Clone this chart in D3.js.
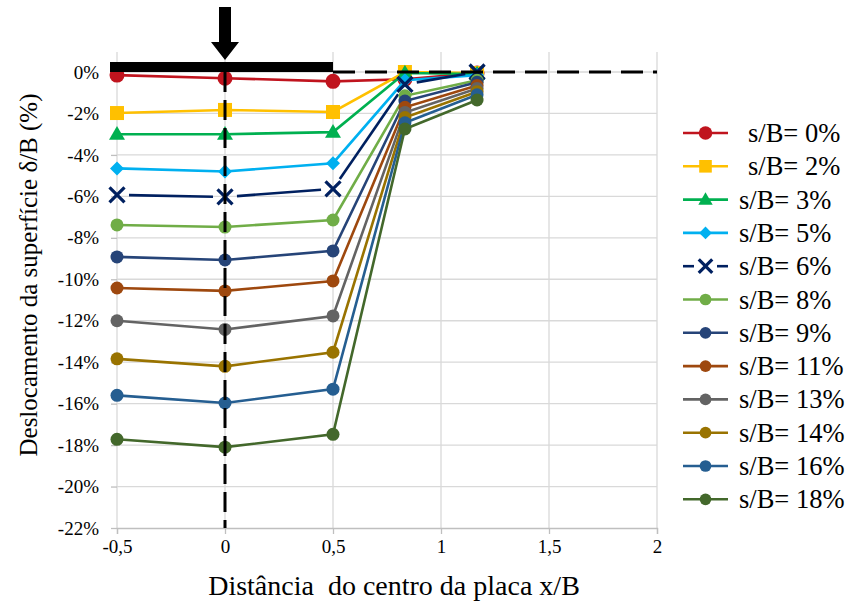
<!DOCTYPE html>
<html><head><meta charset="utf-8">
<script src="https://cdn.jsdelivr.net/npm/d3@7/dist/d3.min.js"></script>
<style>body{margin:0;background:#fff}svg{display:block}</style>
</head><body><svg id="c" width="853" height="606"></svg>
<script>
const SERIF = "'Liberation Serif', 'Times New Roman', Tinos, 'DejaVu Serif', serif";
const xValues = [-0.5, 0, 0.5, 0.833, 1.167];
const seriesNames = ["s/B= 0%","s/B= 2%","s/B= 3%","s/B= 5%","s/B= 6%","s/B= 8%","s/B= 9%","s/B= 11%","s/B= 13%","s/B= 14%","s/B= 16%","s/B= 18%"];
const s0  = [-0.15, -0.3, -0.45, -0.35, -0.05];
const s2  = [-1.98, -1.83, -1.93, 0.0, -0.05];
const s3  = [-3.0, -3.0, -2.9, -0.05, -0.1];
const s5  = [-4.65, -4.8, -4.4, -0.4, -0.15];
const s6  = [-5.93, -6.03, -5.64, -0.6, 0.0];
const s8  = [-7.38, -7.48, -7.14, -1.15, -0.4];
const s9  = [-8.92, -9.07, -8.63, -1.4, -0.5];
const s11 = [-10.42, -10.56, -10.08, -1.7, -0.65];
const s13 = [-12.0, -12.42, -11.77, -1.95, -0.8];
const s14 = [-13.84, -14.2, -13.52, -2.2, -0.95];
const s16 = [-15.6, -15.97, -15.3, -2.45, -1.1];
const s18 = [-17.72, -18.1, -17.48, -2.75, -1.35];
const seriesValues = [s0,s2,s3,s5,s6,s8,s9,s11,s13,s14,s16,s18];
const colors = ["#C0141E","#FFC000","#00B050","#00B0F0","#002060","#70AD47","#264478","#9E480E","#636363","#997300","#255E91","#43682B"];
const markers = ["bigcircle","square","triangle","diamond","cross","circle","circle","circle","circle","circle","circle","circle"];
const xTicks = [-0.5, 0, 0.5, 1, 1.5, 2];
const xTickLabels = ["-0,5","0","0,5","1","1,5","2"];
const yTicks = [0,-2,-4,-6,-8,-10,-12,-14,-16,-18,-20,-22];
const xTitle = "Distância  do centro da placa x/B";
const yTitle = "Deslocamento da superfície δ/B (%)";
const plateExtent = [-0.5, 0.5];

const svg = d3.select("#c");
const x = d3.scaleLinear().domain([-0.5, 2]).range([117, 657]);
const y = d3.scaleLinear().domain([-22, 0]).range([528, 72]);
const yTop = y(0.96);

const g = svg.append("g");
g.selectAll(".hg").data(yTicks.filter(d=>d>-22)).enter().append("line")
  .attr("x1", x(-0.5)).attr("x2", x(2)).attr("y1", d=>y(d)).attr("y2", d=>y(d))
  .attr("stroke","#d9d9d9").attr("stroke-width",1.3);
g.selectAll(".vg").data(xTicks).enter().append("line")
  .attr("x1", d=>x(d)).attr("x2", d=>x(d)).attr("y1", yTop).attr("y2", y(-22))
  .attr("stroke","#d9d9d9").attr("stroke-width",1.3);

const xAxis = d3.axisBottom(x).tickValues(xTicks).tickFormat((d,i)=>xTickLabels[i]).tickSize(6).tickPadding(6);
const xa = svg.append("g").attr("transform",`translate(0,${y(-22)})`).call(xAxis);
xa.attr("font-family", SERIF);
xa.select(".domain").attr("stroke","#bfbfbf").attr("stroke-width",1.3);
xa.selectAll(".tick line").attr("stroke","#bfbfbf").attr("stroke-width",1.3);
xa.selectAll("text").attr("font-size",19).style("font-family", SERIF).attr("fill","#000");

const yAxis = d3.axisLeft(y).tickValues(yTicks).tickFormat(d=>d+"%").tickSize(6).tickPadding(12);
const ya = svg.append("g").attr("transform",`translate(${x(-0.5)},0)`).call(yAxis);
ya.attr("font-family", SERIF);
ya.select(".domain").remove();
ya.selectAll(".tick line").attr("stroke","#bfbfbf").attr("stroke-width",1.3);
ya.selectAll("text").attr("font-size",19).style("font-family", SERIF).attr("fill","#000");

svg.append("text").attr("x", 394).attr("y", 595).attr("text-anchor","middle")
  .style("font-family", SERIF).attr("font-size",28).style("white-space","pre").text(xTitle);
svg.append("text").attr("transform",`translate(37,${275}) rotate(-90)`).attr("text-anchor","middle")
  .style("font-family", SERIF).attr("font-size",25).text(yTitle);

function drawMarker(sel, type, color, cx, cy, legend){
  const s = legend ? 0.9 : 1;
  if(type==="bigcircle"){ sel.append("circle").attr("cx",cx).attr("cy",cy).attr("r",7.5*s).attr("fill",color); }
  else if(type==="circle"){ sel.append("circle").attr("cx",cx).attr("cy",cy).attr("r",6.5*s).attr("fill",color); }
  else if(type==="square"){ const h=7*s; sel.append("rect").attr("x",cx-h).attr("y",cy-h).attr("width",2*h).attr("height",2*h).attr("fill",color); }
  else if(type==="triangle"){ sel.append("path").attr("d",d3.symbol(d3.symbolTriangle, 110*s*s)()).attr("transform",`translate(${cx},${cy+1})`).attr("fill",color); }
  else if(type==="diamond"){ const h=7*s; sel.append("path").attr("d",`M${cx},${cy-h}L${cx+h},${cy}L${cx},${cy+h}L${cx-h},${cy}Z`).attr("fill",color); }
  else if(type==="cross"){ const h=7.5*s; sel.append("path").attr("d",`M${cx-h},${cy-h}L${cx+h},${cy+h}M${cx-h},${cy+h}L${cx+h},${cy-h}`).attr("stroke",color).attr("stroke-width",3.2).attr("fill","none"); }
}

const line = d3.line().x(d=>x(d[0])).y(d=>y(d[1]));
seriesValues.forEach((vals,i)=>{
  const pts = xValues.map((xv,j)=>[xv, vals[j]]);
  const sg = svg.append("g");
  if(markers[i]==="cross"){
    // Excel-style: line stops short of the X markers
    const gap = 12;
    for(let j=0;j<pts.length-1;j++){
      const x1=x(pts[j][0]), y1=y(pts[j][1]), x2=x(pts[j+1][0]), y2=y(pts[j+1][1]);
      const L=Math.hypot(x2-x1,y2-y1), ux=(x2-x1)/L, uy=(y2-y1)/L;
      if(L>2*gap) sg.append("line").attr("x1",x1+ux*gap).attr("y1",y1+uy*gap).attr("x2",x2-ux*gap).attr("y2",y2-uy*gap)
        .attr("stroke",colors[i]).attr("stroke-width",2.6);
    }
  } else {
    sg.append("path").attr("d", line(pts)).attr("fill","none").attr("stroke",colors[i]).attr("stroke-width",2.6);
  }
  pts.forEach(p=>drawMarker(sg, markers[i], colors[i], x(p[0]), y(p[1]), false));
});

svg.append("line").attr("x1", x(plateExtent[1])).attr("x2", x(2)).attr("y1", y(0)).attr("y2", y(0))
  .attr("stroke","#000").attr("stroke-width",3).attr("stroke-dasharray","22,10");
svg.append("line").attr("x1", x(0)).attr("x2", x(0)).attr("y1", y(0)).attr("y2", y(-22))
  .attr("stroke","#000").attr("stroke-width",3).attr("stroke-dasharray","20,8");
svg.append("rect").attr("x", x(plateExtent[0])-7).attr("y", y(0)-10).attr("width", x(plateExtent[1])-x(plateExtent[0])+7).attr("height", 10).attr("fill","#000");
const ax = x(0);
svg.append("path").attr("d",`M${ax-6},7L${ax+6},7L${ax+6},42L${ax+14},42L${ax},60L${ax-14},42L${ax-6},42Z`).attr("fill","#000");

const lg = svg.append("g");
seriesNames.forEach((name,i)=>{
  const cy = 133 + i*33.3;
  if(markers[i]==="cross"){
    lg.append("line").attr("x1",683).attr("x2",694).attr("y1",cy).attr("y2",cy).attr("stroke",colors[i]).attr("stroke-width",2.6);
    lg.append("line").attr("x1",717).attr("x2",728).attr("y1",cy).attr("y2",cy).attr("stroke",colors[i]).attr("stroke-width",2.6);
  } else {
    lg.append("line").attr("x1",683).attr("x2",728).attr("y1",cy).attr("y2",cy).attr("stroke",colors[i]).attr("stroke-width",2.6);
  }
  drawMarker(lg, markers[i], colors[i], 705.5, cy, true);
  lg.append("text").attr("x", i<2 ? 748 : 739).attr("y", cy+9).style("font-family", SERIF).attr("font-size",26.5).text(name);
});
</script></body></html>
